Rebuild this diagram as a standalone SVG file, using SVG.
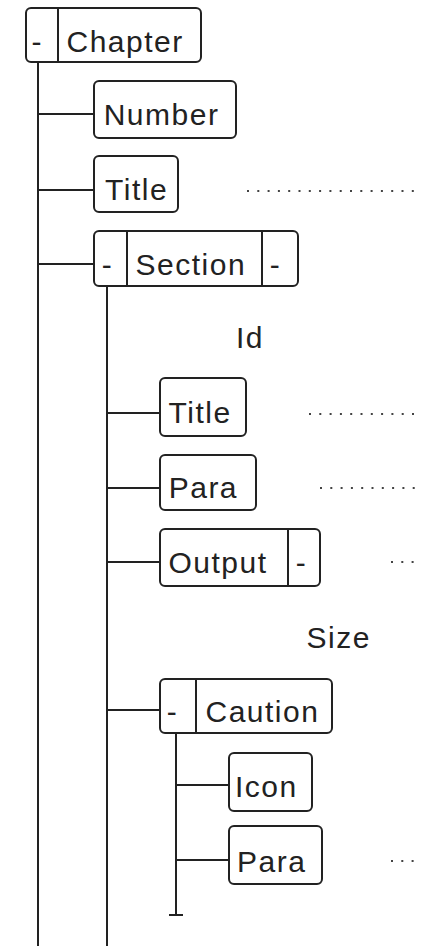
<svg xmlns="http://www.w3.org/2000/svg" width="427" height="946" viewBox="0 0 427 946">
<style>
.box{fill:#fff;stroke:#222;stroke-width:2}
.div{stroke:#222;stroke-width:2}
.ln{stroke:#222;stroke-width:2;fill:none}
.dots{stroke:#444;stroke-width:2;stroke-dasharray:2 8.3;fill:none}
text{font-family:"Liberation Sans",Arial,sans-serif;font-size:30px;letter-spacing:1.5px;fill:#222}
</style>
<rect width="427" height="946" fill="#fff"/>
<g id="connectors">
<line class="ln" x1="38" y1="63" x2="38" y2="946"/>
<line class="ln" x1="38" y1="114" x2="93" y2="114"/>
<line class="ln" x1="38" y1="190" x2="93" y2="190"/>
<line class="ln" x1="38" y1="264" x2="93" y2="264"/>
<line class="ln" x1="107" y1="287" x2="107" y2="946"/>
<line class="ln" x1="107" y1="413" x2="159" y2="413"/>
<line class="ln" x1="107" y1="488" x2="159" y2="488"/>
<line class="ln" x1="107" y1="562" x2="159" y2="562"/>
<line class="ln" x1="107" y1="710" x2="159" y2="710"/>
<line class="ln" x1="176" y1="734" x2="176" y2="915"/>
<line class="ln" x1="169" y1="915" x2="183" y2="915"/>
<line class="ln" x1="176" y1="785" x2="228" y2="785"/>
<line class="ln" x1="176" y1="860" x2="228" y2="860"/>
<line class="dots" x1="247" y1="191" x2="415" y2="191"/>
<line class="dots" x1="309" y1="414" x2="415" y2="414"/>
<line class="dots" x1="320" y1="488" x2="415" y2="488"/>
<line class="dots" x1="391" y1="562" x2="415" y2="562"/>
<line class="dots" x1="391" y1="861" x2="415" y2="861"/>
</g>
<g id="chapter">
<rect class="box" x="26" y="8" width="175" height="54" rx="5"/>
<line class="div" x1="58" y1="8" x2="58" y2="62"/>
<text x="31.5" y="52">-</text>
<text x="66.5" y="52">Chapter</text>
</g>
<g id="number">
<rect class="box" x="94" y="81" width="142" height="57" rx="5"/>
<text x="103.7" y="125">Number</text>
</g>
<g id="title1">
<rect class="box" x="94" y="156" width="84" height="56" rx="5"/>
<text x="105" y="200">Title</text>
</g>
<g id="section">
<rect class="box" x="94" y="231" width="204" height="55" rx="5"/>
<line class="div" x1="127" y1="231" x2="127" y2="286"/>
<line class="div" x1="262" y1="231" x2="262" y2="286"/>
<text x="101.7" y="275">-</text>
<text x="135.6" y="275">Section</text>
<text x="269.7" y="275">-</text>
</g>
<g id="id">
<text x="236" y="348">Id</text>
</g>
<g id="title2">
<rect class="box" x="160" y="378" width="86" height="58" rx="5"/>
<text x="168.5" y="423">Title</text>
</g>
<g id="para1">
<rect class="box" x="160" y="455" width="96" height="55" rx="5"/>
<text x="168.7" y="498">Para</text>
</g>
<g id="output">
<rect class="box" x="160" y="529" width="160" height="57" rx="5"/>
<line class="div" x1="288" y1="529" x2="288" y2="586"/>
<text x="168.5" y="573">Output</text>
<text x="295.7" y="573">-</text>
</g>
<g id="size">
<text x="306.6" y="648">Size</text>
</g>
<g id="caution">
<rect class="box" x="160" y="679" width="172" height="54" rx="5"/>
<line class="div" x1="196" y1="679" x2="196" y2="733"/>
<text x="166.7" y="722">-</text>
<text x="205.5" y="722">Caution</text>
</g>
<g id="icon">
<rect class="box" x="229" y="753" width="83" height="58" rx="5"/>
<text x="235" y="797">Icon</text>
</g>
<g id="para2">
<rect class="box" x="229" y="826" width="93" height="58" rx="5"/>
<text x="237" y="872">Para</text>
</g>
</svg>
